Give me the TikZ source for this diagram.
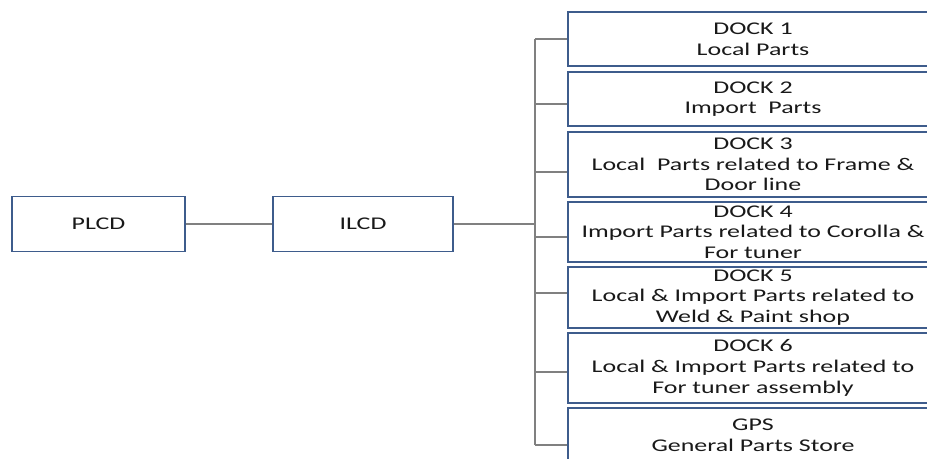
\documentclass[tikz,border=0pt]{standalone}
\usepackage{fontspec}
\setmainfont{Carlito}[FakeStretch=1.45]
\usepackage{tikz}
\usetikzlibrary{calc}

\definecolor{boxblue}{RGB}{62,92,140}
\definecolor{linegrey}{RGB}{128,128,128}

\begin{document}
\begin{tikzpicture}[x=0.75pt,y=-0.75pt,
  box/.style={draw=boxblue,line width=1.3pt,fill=white,align=center,inner sep=0pt,
    font=\fontsize{13.4}{15.5}\selectfont,text=black!90},
  dockbox/.style={box,minimum width=278pt},
  link/.style={draw=linegrey,line width=1pt}]
\useasboundingbox (0,0) rectangle (927,459);
\node[box,minimum width=129.75pt,minimum height=41.25pt] (plcd) at (98.5,224) {PLCD};
\node[box,minimum width=135pt,minimum height=41.25pt]    (ilcd) at (363,224) {ILCD};
\node[dockbox,minimum height=40.5pt]  (d1)  at (753,39)    {DOCK 1\\Local Parts};
\node[dockbox,minimum height=40.5pt]  (d2)  at (753,99)    {DOCK 2\\Import~ Parts};
\node[dockbox,minimum height=48.75pt] (d3)  at (753,164.5) {DOCK 3\\Local~ Parts related to Frame \&\\Door line};
\node[dockbox,minimum height=45pt]    (d4)  at (753,232)   {DOCK 4\\Import Parts related to Corolla \&\\For tuner};
\node[dockbox,minimum height=45.75pt] (d5)  at (753,297.5) {DOCK 5\\Local \& Import Parts related to\\Weld \& Paint shop};
\node[dockbox,minimum height=52.5pt]  (d6)  at (753,368)   {DOCK 6\\Local \& Import Parts related to\\For tuner assembly};
\node[dockbox,minimum height=40.5pt]  (gps) at (753,435)   {GPS\\General Parts Store};
\coordinate (trunk) at (535,223);

% tree connectors
\draw[link] (plcd.east) -- (ilcd.west);
\draw[link] (ilcd.east) -- (ilcd.east -| trunk);
\foreach \n/\o in {d1/0,d2/5,d3/7.5,d4/5,d5/-4.5,d6/4,gps/10}{
  \coordinate (c\n) at ([yshift=-\o*0.75pt]\n.west);
  \draw[link] (c\n -| trunk) -- (c\n);
}
\draw[link] (cd1 -| trunk) -- (cgps -| trunk);
\end{tikzpicture}
\end{document}
